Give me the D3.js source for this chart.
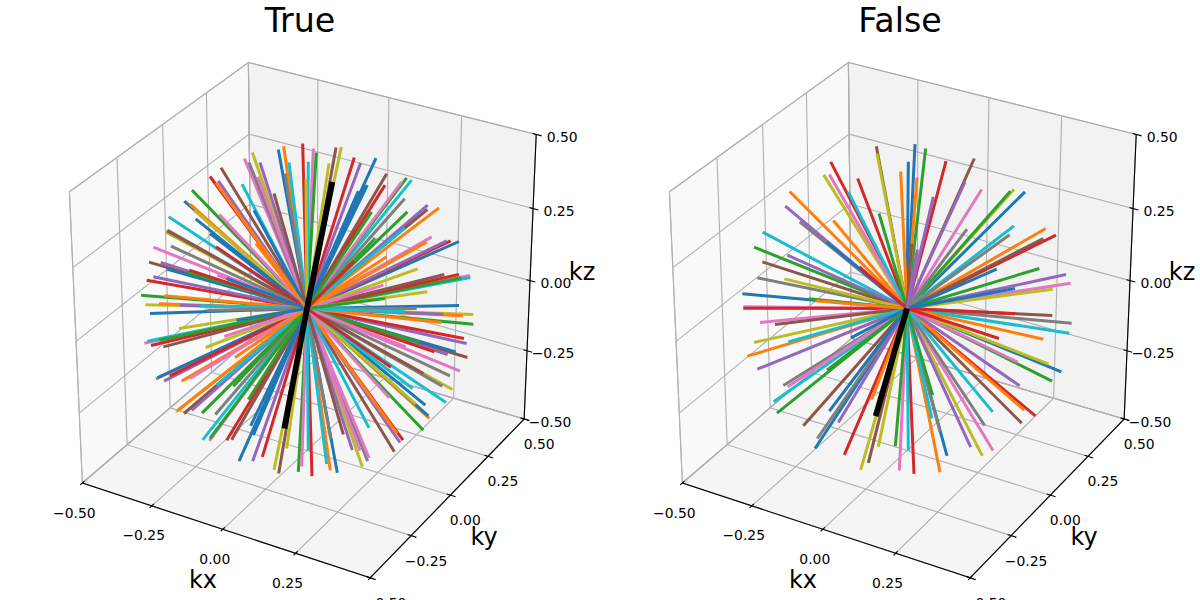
<!DOCTYPE html>
<html><head><meta charset="utf-8">
<script src="https://cdn.jsdelivr.net/npm/d3@7"></script>
<style>html,body{margin:0;padding:0;background:#fff;overflow:hidden}svg{display:block}text{font-family:"DejaVu Sans";fill:#000}</style>
</head><body><div id="chart"></div>
<script>
// Spoke ends as seen in the picture, in thousandths of k, [right, up] from the k-space origin.
const trueBlue=[[-86,477],[-159,295],[-368,322],[-334,269],[-291,225],[-421,118],[-241,90],[207,451],[181,370],[174,370],[154,352],[456,201],[456,9],[-471,-15],[-211,-35],[-448,-207],[-169,-352],[-161,-380],[-204,-458],[446,-130],[355,-290],[364,-322],[91,-493]];
const trueOrange=[[-70,487],[-273,377],[-351,313],[-153,195],[-428,38],[-444,14],[396,302],[359,199],[239,155],[-216,-147],[-376,-218],[-388,-306],[467,-22],[404,-42],[367,-330],[270,-375],[70,-485]];
const trueGreen=[[-361,110],[-345,355],[-498,40],[28,468],[299,392],[194,290],[301,290],[204,210],[464,92],[234,30],[-443,-95],[-315,-314],[-221,-233],[-176,-273],[-291,-390],[-26,-490],[499,-47],[339,-102],[349,-365]];
const trueRed=[[-13,495],[-291,396],[-273,185],[-353,115],[-481,85],[142,453],[234,370],[431,203],[456,102],[141,142],[-468,-111],[-411,-202],[-241,-395],[-134,-445],[471,-90],[382,-130],[252,-176],[288,-395],[15,-503]];
const truePurple=[[-141,438],[-266,383],[-439,138],[-461,95],[-381,10],[161,437],[362,310],[419,203],[-429,-218],[-346,-306],[-163,-458],[409,-17],[479,-105],[422,-138],[279,-402],[136,-425]];
const trueBrown=[[-99,345],[-258,422],[-419,233],[-474,139],[87,483],[239,404],[361,297],[412,102],[-431,-115],[-369,-315],[-226,-394],[-85,-495],[481,-147],[349,-195],[262,-430],[109,-378]];
const truePink=[[-188,450],[-148,395],[-263,282],[-461,184],[-269,100],[19,480],[284,380],[374,215],[489,99],[229,70],[-488,-104],[-248,-84],[-351,-210],[-293,-397],[-16,-474],[296,-115],[459,-188],[247,-268],[186,-448],[159,-426]];
const trueGray=[[-66,405],[-174,438],[-419,235],[-408,187],[-299,-5],[293,329],[329,0],[-453,-211],[-275,-318],[429,-202],[406,-233],[182,-458],[71,-390]];
const trueOlive=[[-3,387],[-164,468],[-339,295],[-424,230],[-485,11],[66,435],[103,485],[332,119],[361,50],[-384,-60],[-304,-117],[-393,-310],[-61,-420],[-99,-484],[499,-18],[436,-243],[326,-287],[166,-475]];
const trueCyan=[[4,440],[-54,438],[-195,373],[-415,275],[-321,8],[314,385],[294,242],[490,93],[-479,-98],[-271,-230],[-313,-394],[4,-427],[294,-10],[417,-282],[317,-240],[186,-358],[59,-467]];
const trueBlack=[[76,380],[-68,-360]];

const falseBlue=[[4,440],[24,493],[-241,200],[-494,44],[354,350],[269,118],[324,60],[-168,-88],[-233,-308],[-276,-420],[463,-190],[120,-442]];
const falseOrange=[[-19,411],[-352,351],[-221,264],[-275,23],[30,393],[416,240],[-479,-143],[-106,-272],[409,-92],[352,-305],[99,-491]];
const falseGreen=[[-84,285],[-459,184],[-295,29],[56,480],[310,352],[397,120],[-390,-314],[-240,-185],[-35,-413],[435,-218],[77,-260]];
const falseRed=[[-229,440],[-148,390],[-143,125],[-491,1],[117,442],[447,220],[-188,-439],[324,-16],[276,-90],[385,-322],[21,-496]];
const falsePurple=[[-365,307],[-359,160],[79,335],[174,380],[31,177],[477,102],[-449,-182],[-206,-342],[338,-232],[191,-416]];
const falseBrown=[[-92,487],[-434,140],[202,450],[14,195],[409,210],[-396,-48],[-311,-352],[-116,-463],[436,-21],[344,-344]];
const falsePink=[[-233,402],[224,357],[491,76],[-491,5],[-441,-42],[-358,-235],[-23,-486],[332,-161],[258,-426]];
const falseGray=[[-322,260],[-449,92],[180,238],[308,221],[-371,-231],[-269,-390],[494,-44],[233,-351],[99,-370]];
const falseOlive=[[-90,465],[-250,401],[-368,89],[321,358],[437,58],[-459,-102],[-139,-484],[-86,-415],[425,-167],[226,-442]];
const falseCyan=[[-176,350],[-433,229],[321,248],[-356,-100],[-400,-280],[4,-426],[487,-74],[257,-310],[75,-330]];
const falseBlack=[[-94,-323]];

const tab10=["#1f77b4","#ff7f0e","#2ca02c","#d62728","#9467bd","#8c564b","#e377c2","#7f7f7f","#bcbd22","#17becf"];
const tickValues=[-0.5,-0.25,0,0.25,0.5];
const tickLabels=["\u22120.50","\u22120.25","0.00","0.25","0.50"];
const panelTitles=["True","False"];
const axisNames=["kx","ky","kz"];

const panels=[
 {title:panelTitles[0],cx:307,series:[trueBlue,trueOrange,trueGreen,trueRed,truePurple,trueBrown,truePink,trueGray,trueOlive,trueCyan],black:trueBlack},
 {title:panelTitles[1],cx:907,series:[falseBlue,falseOrange,falseGreen,falseRed,falsePurple,falseBrown,falsePink,falseGray,falseOlive,falseCyan],black:falseBlack}
];

const svg=d3.select("#chart").append("svg").attr("width",1200).attr("height",600);
const CY=310.5, SPOKE_CY=308.5, SIDE=1.1, DIST=10, UNIT=302;
const rad=Math.PI/180, el=30*rad, az=-60*rad;
const W=[Math.cos(el)*Math.cos(az),Math.cos(el)*Math.sin(az),Math.sin(el)];
const U=[-W[1],W[0],0].map(d=>d/Math.hypot(W[0],W[1]));
const V=[W[1]*U[2]-W[2]*U[1],W[2]*U[0]-W[0]*U[2],W[0]*U[1]-W[1]*U[0]];
const dot=(a,b)=>a[0]*b[0]+a[1]*b[1]+a[2]*b[2];

panels.forEach(p=>{
  const g=svg.append("g");
  const sx=d3.scaleLinear().domain([-1,1]).range([p.cx-UNIT,p.cx+UNIT]);
  const sy=d3.scaleLinear().domain([-1,1]).range([CY+UNIT,CY-UNIT]);
  const project=k=>{
    const q=k.map(d=>d*SIDE), f=1/(1-dot(q,W)/DIST);
    return [sx(dot(q,U)*f),sy(dot(q,V)*f)];
  };
  const poly=d3.line().x(d=>project(d)[0]).y(d=>project(d)[1]);
  const lo=tickValues[0], hi=tickValues[4];
  // panes
  [[[lo,lo,lo],[lo,hi,lo],[lo,hi,hi],[lo,lo,hi],"#f9f9f9"],
   [[lo,hi,lo],[hi,hi,lo],[hi,hi,hi],[lo,hi,hi],"#f2f2f2"],
   [[lo,lo,lo],[hi,lo,lo],[hi,hi,lo],[lo,hi,lo],"#f5f5f5"]].forEach(a=>{
     g.append("path").attr("d",poly(a.slice(0,4))+"Z").attr("fill",a[4]).attr("stroke","#b8b8b8").attr("stroke-width",1.1);
  });
  // grid
  tickValues.forEach(t=>{
    [[[t,lo,lo],[t,hi,lo],[t,hi,hi]],[[hi,t,lo],[lo,t,lo],[lo,t,hi]],[[lo,lo,t],[lo,hi,t],[hi,hi,t]]].forEach(l=>{
      g.append("path").attr("d",poly(l)).attr("fill","none").attr("stroke","#b0b0b0").attr("stroke-width",1.1);
    });
  });
  // axis lines, ticks, tick labels
  const axLine=(a,b)=>g.append("path").attr("d",poly([a,b])).attr("fill","none").attr("stroke","#000").attr("stroke-width",1.1);
  axLine([lo,lo,lo],[hi,lo,lo]); axLine([hi,lo,lo],[hi,hi,lo]); axLine([hi,hi,lo],[hi,hi,hi]);
  const label=(t,pt,dx,dy)=>g.append("text").text(t).attr("x",pt[0]+dx).attr("y",pt[1]+dy).attr("text-anchor","middle").attr("dominant-baseline","central").attr("font-size",13.9);
  tickValues.forEach((t,i)=>{
    axLine([t,lo-0.012,lo],[t,lo+0.012,lo]);
    label(tickLabels[i],project([t,lo,lo]),-8,29.5);
    axLine([hi-0.012,t,lo],[hi+0.018,t,lo]);
    label(tickLabels[i],project([hi,t,lo]),15,25);
    axLine([hi-0.012,hi,t],[hi+0.018,hi,t]);
    label(tickLabels[i],project([hi,hi,t]),26,2.5);
  });
  // spokes
  const ex=d3.scaleLinear().domain([-500,500]).range([p.cx-500/3,p.cx+500/3]);
  const ey=d3.scaleLinear().domain([-500,500]).range([SPOKE_CY+500/3,SPOKE_CY-500/3]);
  const rays=[];
  p.series.forEach((s,c)=>s.forEach(e=>rays.push({e,c})));
  rays.sort((a,b)=>Math.hypot(b.e[0],b.e[1])-Math.hypot(a.e[0],a.e[1]));
  g.selectAll("line.spoke").data(rays).join("line").attr("class","spoke")
    .attr("x1",ex(0)).attr("y1",ey(0)).attr("x2",d=>ex(d.e[0])).attr("y2",d=>ey(d.e[1]))
    .attr("stroke",d=>tab10[d.c]).attr("stroke-width",3);
  g.selectAll("line.black").data(p.black).join("line").attr("class","black")
    .attr("x1",ex(0)).attr("y1",ey(0)).attr("x2",d=>ex(d[0])).attr("y2",d=>ey(d[1]))
    .attr("stroke","#000").attr("stroke-width",5.8);
  // labels
  const off=p.cx-307;
  [[203,580],[484,537],[582,272]].forEach((a,i)=>{
    g.append("text").text(axisNames[i]).attr("x",a[0]+off).attr("y",a[1]).attr("text-anchor","middle").attr("dominant-baseline","central").attr("font-size",24);
  });
  g.append("text").text(p.title).attr("x",300+off).attr("y",20).attr("text-anchor","middle").attr("dominant-baseline","central").attr("font-size",33.3);
});
</script></body></html>
